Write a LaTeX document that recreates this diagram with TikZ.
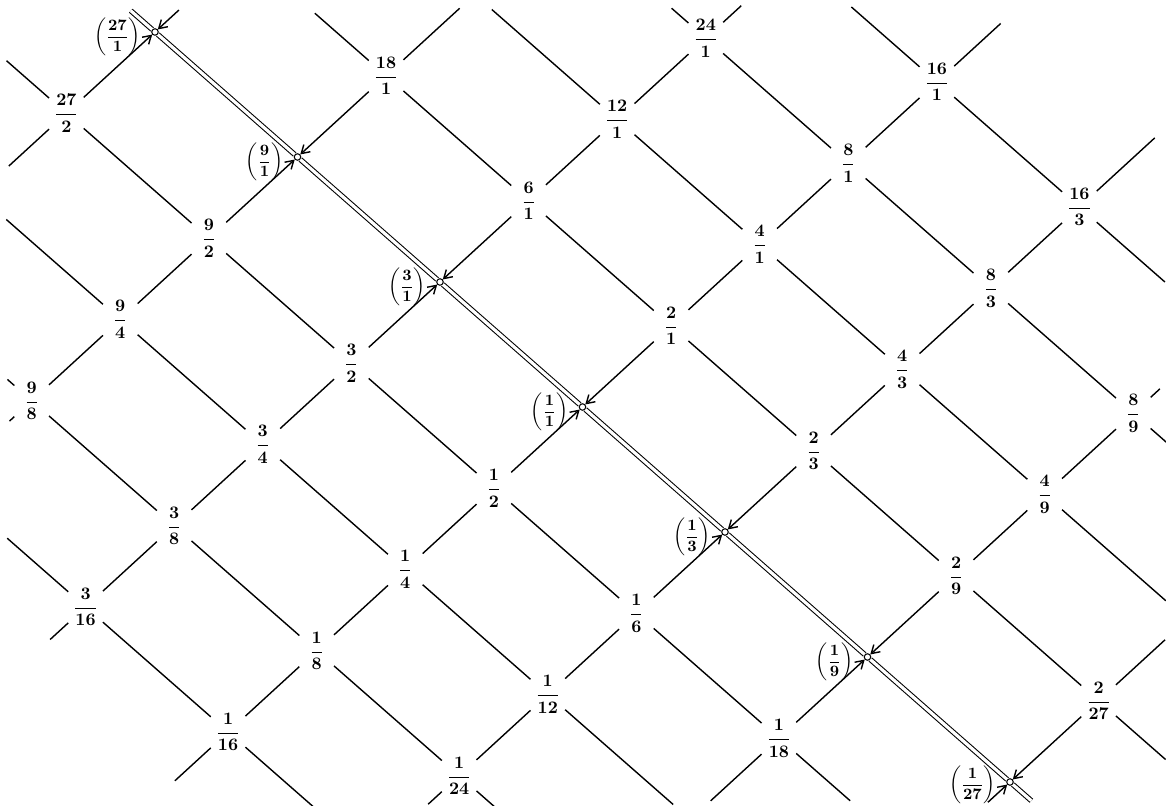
\documentclass[tikz,border=0pt]{standalone}
\usepackage{amsmath}
\usetikzlibrary{arrows.meta, positioning}

\tikzset{
  ratiobox/.style={inner sep=0pt, minimum width=0.68cm, minimum height=0.6cm, font=\boldmath},
  hub/.style={circle, draw, fill=white, inner sep=0pt, minimum size=0.13cm, line width=0.6pt},
  hublabel/.style={inner sep=0pt, font=\small\boldmath},
  gridline/.style={line width=0.8pt},
  spine/.style={double, double distance=1.8pt, line width=0.6pt}
}
\newcommand{\rlbl}[2]{$\dfrac{#1}{#2}$}
\newcommand{\plbl}[2]{$\left(\dfrac{#1}{#2}\right)$}

\begin{document}
\begin{tikzpicture}[x={(1.772cm,1.625cm)}, y={(-2.85cm,2.5cm)}, >={Straight Barb[length=4.5pt,width=5.5pt]}]
\useasboundingbox (-11.65cm,8.14cm) rectangle (11.67cm,-7.98cm);

% ratios (x = powers of two, y = powers of three)
\node[ratiobox] (r27-2) at (-1,3) {\rlbl{27}{2}};
\node[hub] (r27-1) at (0,3) {};
\node[hublabel, left=0.2cm of r27-1, yshift=-0.1cm] (l27-1) {\plbl{27}{1}};

\node[ratiobox] (r9-8) at (-3,2) {\rlbl{9}{8}};
\node[ratiobox] (r9-4) at (-2,2) {\rlbl{9}{4}};
\node[ratiobox] (r9-2) at (-1,2) {\rlbl{9}{2}};
\node[hub] (r9-1) at (0,2) {};
\node[hublabel, left=0.2cm of r9-1, yshift=-0.1cm] (l9-1) {\plbl{9}{1}};
\node[ratiobox] (r18-1) at (1,2) {\rlbl{18}{1}};

\node[ratiobox] (r3-16) at (-4,1) {\rlbl{3}{16}};
\node[ratiobox] (r3-8) at (-3,1) {\rlbl{3}{8}};
\node[ratiobox] (r3-4) at (-2,1) {\rlbl{3}{4}};
\node[ratiobox] (r3-2) at (-1,1) {\rlbl{3}{2}};
\node[hub] (r3-1) at (0,1) {};
\node[hublabel, left=0.2cm of r3-1, yshift=-0.1cm] (l3-1) {\plbl{3}{1}};
\node[ratiobox] (r6-1) at (1,1) {\rlbl{6}{1}};
\node[ratiobox] (r12-1) at (2,1) {\rlbl{12}{1}};
\node[ratiobox] (r24-1) at (3,1) {\rlbl{24}{1}};

\node[ratiobox] (r1-16) at (-4,0) {\rlbl{1}{16}};
\node[ratiobox] (r1-8) at (-3,0) {\rlbl{1}{8}};
\node[ratiobox] (r1-4) at (-2,0) {\rlbl{1}{4}};
\node[ratiobox] (r1-2) at (-1,0) {\rlbl{1}{2}};
\node[hub] (r1-1) at (0,0) {};
\node[hublabel, left=0.2cm of r1-1, yshift=-0.1cm] (l1-1) {\plbl{1}{1}};
\node[ratiobox] (r2-1) at (1,0) {\rlbl{2}{1}};
\node[ratiobox] (r4-1) at (2,0) {\rlbl{4}{1}};
\node[ratiobox] (r8-1) at (3,0) {\rlbl{8}{1}};
\node[ratiobox] (r16-1) at (4,0) {\rlbl{16}{1}};

\node[ratiobox] (r1-24) at (-3,-1) {\rlbl{1}{24}};
\node[ratiobox] (r1-12) at (-2,-1) {\rlbl{1}{12}};
\node[ratiobox] (r1-6) at (-1,-1) {\rlbl{1}{6}};
\node[hub] (r1-3) at (0,-1) {};
\node[hublabel, left=0.2cm of r1-3, yshift=-0.1cm] (l1-3) {\plbl{1}{3}};
\node[ratiobox] (r2-3) at (1,-1) {\rlbl{2}{3}};
\node[ratiobox] (r4-3) at (2,-1) {\rlbl{4}{3}};
\node[ratiobox] (r8-3) at (3,-1) {\rlbl{8}{3}};
\node[ratiobox] (r16-3) at (4,-1) {\rlbl{16}{3}};

\node[ratiobox] (r1-18) at (-1,-2) {\rlbl{1}{18}};
\node[hub] (r1-9) at (0,-2) {};
\node[hublabel, left=0.2cm of r1-9, yshift=-0.1cm] (l1-9) {\plbl{1}{9}};
\node[ratiobox] (r2-9) at (1,-2) {\rlbl{2}{9}};
\node[ratiobox] (r4-9) at (2,-2) {\rlbl{4}{9}};
\node[ratiobox] (r8-9) at (3,-2) {\rlbl{8}{9}};

\node[hub] (r1-27) at (0,-3) {};
\node[hublabel, left=0.2cm of r1-27, yshift=-0.06cm] (l1-27) {\plbl{1}{27}};
\node[ratiobox] (r2-27) at (1,-3) {\rlbl{2}{27}};

% loose ends at the edge
\coordinate (nw3-16) at (-4,1.55);   \coordinate (se1-16) at (-4,-0.6);
\coordinate (nw9-8) at (-3,2.17);    \coordinate (se1-24) at (-3,-1.25);
\coordinate (nw9-4) at (-2,2.8);     \coordinate (se1-12) at (-2,-1.88);
\coordinate (nw27-2) at (-1,3.42);   \coordinate (se1-18) at (-1,-2.5);
\coordinate (nw27-1) at (0,3.17);    \coordinate (se1-27) at (0,-3.15);
\coordinate (nw18-1) at (1,2.5);     \coordinate (se2-27) at (1,-3.47);
\coordinate (nw12-1) at (2,1.88);    \coordinate (se4-9) at (2,-2.85);
\coordinate (nw24-1) at (3,1.24);    \coordinate (se8-9) at (3,-2.25);
\coordinate (nw16-1) at (4,0.6);     \coordinate (se16-3) at (4,-1.6);

\coordinate (sw27-2) at (-1.65,3);   \coordinate (ne27-1) at (0.27,3);
\coordinate (sw9-8) at (-3.25,2);    \coordinate (ne18-1) at (1.83,2);
\coordinate (sw3-16) at (-4.4,1);    \coordinate (ne24-1) at (3.4,1);
\coordinate (sw1-16) at (-4.6,0);    \coordinate (ne16-1) at (4.72,0);
\coordinate (sw1-24) at (-3.35,-1);  \coordinate (ne16-3) at (4.85,-1);
\coordinate (sw1-18) at (-1.77,-2);  \coordinate (ne8-9) at (3.3,-2);
\coordinate (sw1-27) at (-0.25,-3);  \coordinate (ne2-27) at (1.75,-3);

% down to the right
\draw[gridline] (nw3-16) -- (r3-16) -- (r1-16) -- (se1-16);
\draw[gridline] (nw9-8) -- (r9-8) -- (r3-8) -- (r1-8) -- (r1-24) -- (se1-24);
\draw[gridline] (nw9-4) -- (r9-4) -- (r3-4) -- (r1-4) -- (r1-12) -- (se1-12);
\draw[gridline] (nw27-2) -- (r27-2) -- (r9-2) -- (r3-2) -- (r1-2) -- (r1-6) -- (r1-18) -- (se1-18);
\draw[spine] (nw27-1) -- (r27-1) -- (r9-1) -- (r3-1) -- (r1-1) -- (r1-3) -- (r1-9) -- (r1-27) -- (se1-27);
\draw[gridline] (nw18-1) -- (r18-1) -- (r6-1) -- (r2-1) -- (r2-3) -- (r2-9) -- (r2-27) -- (se2-27);
\draw[gridline] (nw12-1) -- (r12-1) -- (r4-1) -- (r4-3) -- (r4-9) -- (se4-9);
\draw[gridline] (nw24-1) -- (r24-1) -- (r8-1) -- (r8-3) -- (r8-9) -- (se8-9);
\draw[gridline] (nw16-1) -- (r16-1) -- (r16-3) -- (se16-3);

% up to the right
\draw[gridline] (sw27-2) -- (r27-2);
\draw[gridline, ->] (r27-2) -- (r27-1);
\draw[gridline, ->] (ne27-1) -- (r27-1);

\draw[gridline] (sw9-8) -- (r9-8) -- (r9-4) -- (r9-2);
\draw[gridline, ->] (r9-2) -- (r9-1);
\draw[gridline, ->] (r18-1) -- (r9-1);
\draw[gridline] (r18-1) -- (ne18-1);

\draw[gridline] (sw3-16) -- (r3-16) -- (r3-8) -- (r3-4) -- (r3-2);
\draw[gridline, ->] (r3-2) -- (r3-1);
\draw[gridline, ->] (r6-1) -- (r3-1);
\draw[gridline] (r6-1) -- (r12-1) -- (r24-1) -- (ne24-1);

\draw[gridline] (sw1-16) -- (r1-16) -- (r1-8) -- (r1-4) -- (r1-2);
\draw[gridline, ->] (r1-2) -- (r1-1);
\draw[gridline, ->] (r2-1) -- (r1-1);
\draw[gridline] (r2-1) -- (r4-1) -- (r8-1) -- (r16-1) -- (ne16-1);

\draw[gridline] (sw1-24) -- (r1-24) -- (r1-12) -- (r1-6);
\draw[gridline, ->] (r1-6) -- (r1-3);
\draw[gridline, ->] (r2-3) -- (r1-3);
\draw[gridline] (r2-3) -- (r4-3) -- (r8-3) -- (r16-3) -- (ne16-3);

\draw[gridline] (sw1-18) -- (r1-18);
\draw[gridline, ->] (r1-18) -- (r1-9);
\draw[gridline, ->] (r2-9) -- (r1-9);
\draw[gridline] (r2-9) -- (r4-9) -- (r8-9) -- (ne8-9);

\draw[gridline, ->] (sw1-27) -- (r1-27);
\draw[gridline, ->] (r2-27) -- (r1-27);
\draw[gridline] (r2-27) -- (ne2-27);
\end{tikzpicture}
\end{document}
